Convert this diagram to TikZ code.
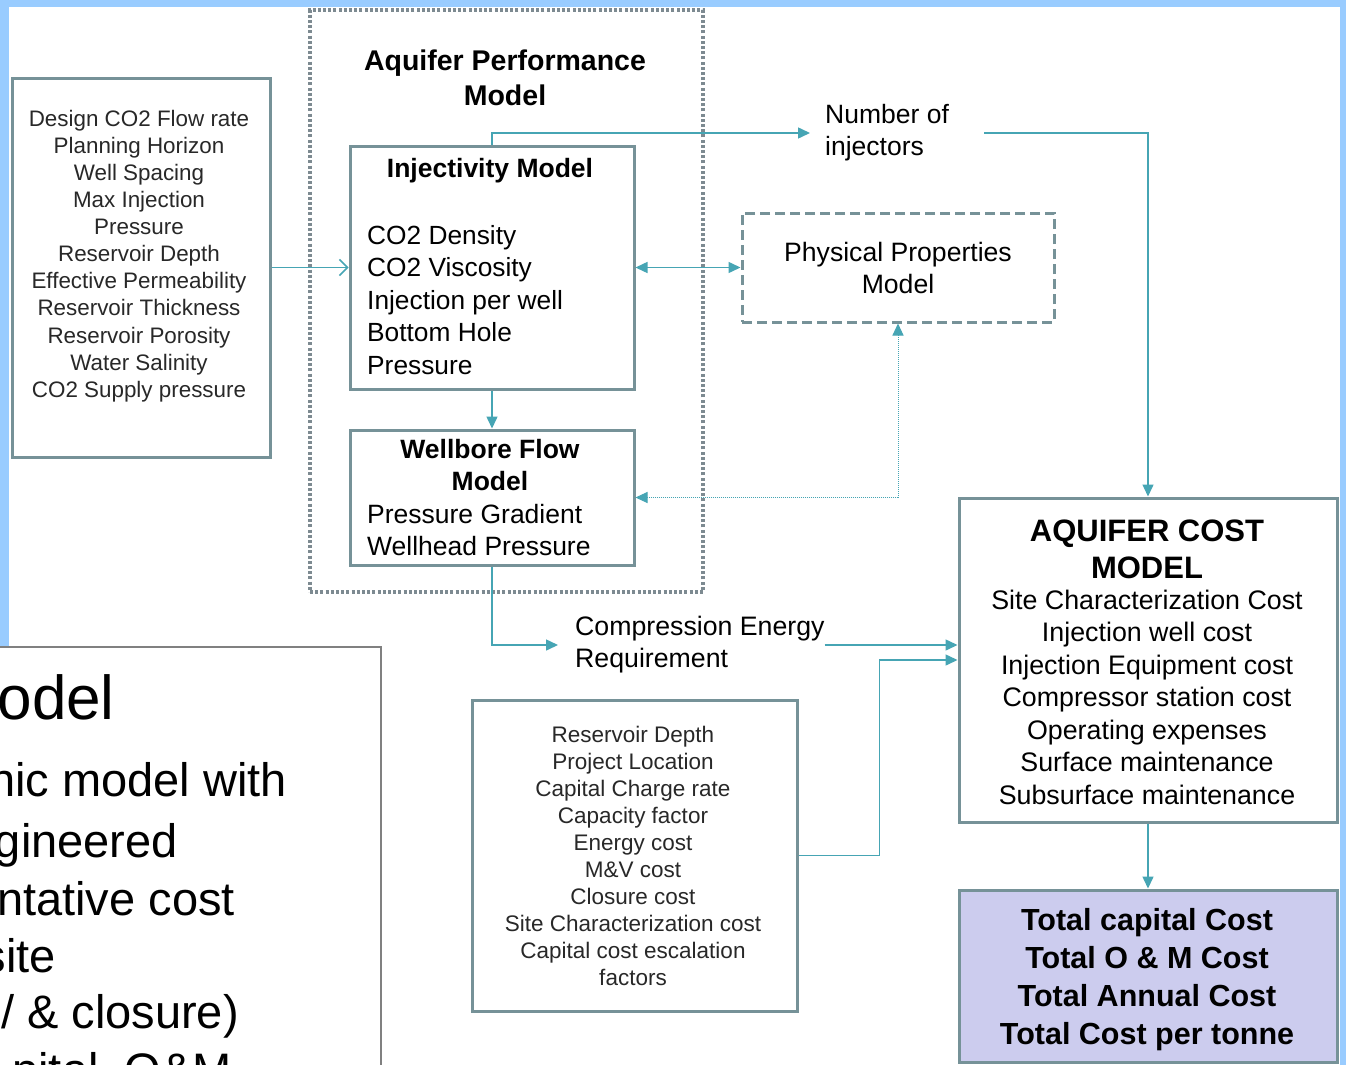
\documentclass[tikz,border=0pt]{standalone}
\usepackage{fontspec}
\setmainfont{Liberation Sans}
\usetikzlibrary{arrows.meta,calc}
\definecolor{bgblue}{RGB}{153,204,255}
\definecolor{boxline}{RGB}{118,146,152}
\definecolor{tealc}{RGB}{70,165,180}
\definecolor{dotgray}{RGB}{125,138,145}
\definecolor{lav}{RGB}{204,204,238}
\definecolor{txtgray}{RGB}{40,40,40}
\definecolor{ovgray}{RGB}{128,128,128}
\begin{document}
\begin{tikzpicture}[x=1pt,y=-1pt,
  box/.style={draw=boxline,line width=3pt,fill=white,inner sep=0pt},
  txt/.style={inner sep=0pt,text=black},
  light/.style={inner sep=0pt,text=txtgray},
  conn/.style={draw=tealc,line width=1.5pt},
  arr/.style={conn,-{Triangle[length=12pt,width=11pt]}},
  dbl/.style={conn,{Triangle[length=12pt,width=11pt]}-{Triangle[length=12pt,width=11pt]}},
  dotconn/.style={draw=tealc,line width=1pt,dash pattern=on 1pt off 1pt,{Triangle[length=12pt,width=11pt]}-{Triangle[length=12pt,width=11pt]}}
]
\useasboundingbox (0,0) rectangle (1346,1065);
\clip (0,0) rectangle (1346,1065);
\fill[bgblue] (0,0) rectangle (1346,1065);
\fill[white] (9,7) rectangle (1340,1070);

% Aquifer performance model (dotted container)
\node[draw=dotgray,line width=3.5pt,dash pattern=on 3pt off 2.2pt,minimum width=393pt,minimum height=582pt,inner sep=0pt] (perf) at (506.5,301) {};
\node[txt,font=\fontsize{28.5}{35}\selectfont\bfseries,align=center] (perft) at (505,78) {Aquifer Performance\\Model};

% input box
\node[box,minimum width=258pt,minimum height=379pt] (inp) at (141,267.5) {};
\node[light,font=\fontsize{22.4}{27.1}\selectfont,align=center] (inpt) at (139,256) {Design CO2 Flow rate\\Planning Horizon\\Well Spacing\\Max Injection\\Pressure\\Reservoir Depth\\Effective Permeability\\Reservoir Thickness\\Reservoir Porosity\\Water Salinity\\CO2 Supply pressure};

% injectivity model
\node[box,minimum width=284pt,minimum height=243pt] (inj) at (492,267.5) {};
\node[txt,font=\fontsize{26.5}{32}\selectfont\bfseries] (injt) at (490,171) {Injectivity Model};
\node[txt,font=\fontsize{26.3}{32.5}\selectfont,align=left,anchor=west] (injb) at (367,300) {CO2 Density\\CO2 Viscosity\\Injection per well\\Bottom Hole\\Pressure};

% wellbore flow model
\node[box,minimum width=284pt,minimum height=135pt] (wb) at (492,497.5) {};
\node[txt,font=\fontsize{26.5}{32}\selectfont\bfseries,align=center] (wbt) at (490,465) {Wellbore Flow\\Model};
\node[txt,font=\fontsize{26.5}{32.5}\selectfont,align=left,anchor=west] (wbb) at (367,530) {Pressure Gradient\\Wellhead Pressure};

% physical properties
\node[draw=boxline,line width=3pt,dash pattern=on 10pt off 5pt,fill=white,minimum width=312pt,minimum height=109pt,inner sep=0pt] (phys) at (898,267.5) {};
\node[txt,font=\fontsize{26.6}{32}\selectfont,align=center] (physt) at (898,268) {Physical Properties\\Model};

% number of injectors
\node[txt,font=\fontsize{26.5}{32}\selectfont,align=left,anchor=west] (ninj) at (825,133) {Number of\\injectors};

% aquifer cost model
\node[box,minimum width=378pt,minimum height=324pt] (cost) at (1148,660) {};
\node[txt,font=\fontsize{31}{37}\selectfont\bfseries,align=center] (costt) at (1147,549) {AQUIFER COST\\MODEL};
\node[txt,font=\fontsize{26.8}{32.5}\selectfont,align=center] (costb) at (1147,697) {Site Characterization Cost\\Injection well cost\\Injection Equipment cost\\Compressor station cost\\Operating expenses\\Surface maintenance\\Subsurface maintenance};

% totals
\node[box,fill=lav,minimum width=378pt,minimum height=172pt] (tot) at (1148,976) {};
\node[txt,font=\fontsize{30.5}{38}\selectfont\bfseries,align=center] (tott) at (1147,980) {Total capital Cost\\Total O \& M Cost\\Total Annual Cost\\Total Cost per tonne};

% economic inputs
\node[box,minimum width=325pt,minimum height=311pt] (bot) at (634.5,855.5) {};
\node[light,font=\fontsize{22.5}{27}\selectfont,align=center] (bott) at (633,856) {Reservoir Depth\\Project Location\\Capital Charge rate\\Capacity factor\\Energy cost\\M\&V cost\\Closure cost\\Site Characterization cost\\Capital cost escalation\\factors};

% compression energy
\node[txt,font=\fontsize{26.7}{32}\selectfont,align=left,anchor=west] (comp) at (575,645) {Compression Energy\\Requirement};

% connectors
\draw[conn,-{Straight Barb[length=8pt,width=16pt]}] (inp.east) -- (inj.west);
\draw[arr] (inj.north) |- ([xshift=-15pt]ninj.west);
\draw[arr] ([xshift=35pt]ninj.east) -| (cost.north);
\draw[dbl] (inj.east) -- (phys.west);
\draw[arr] (inj.south) -- (wb.north);
\draw[dotconn] (phys.south) |- (wb.east);
\draw[arr] (wb.south) |- ([xshift=-17pt]comp.west);
\draw[arr] (comp.east) -- (comp.east -| cost.west);
\draw[arr] (bot.east) -- ++(81,0) |- (cost.west);
\draw[arr] (cost.south) -- (tot.north);

% overlay slide box
\node[draw=ovgray,line width=1.5pt,fill=white,minimum width=390pt,minimum height=430pt,inner sep=0pt] (ov) at (186,862) {};
\node[txt,font=\fontsize{62}{62}\selectfont,anchor=base east] (ov1) at (115,719) {odel};
\node[txt,font=\fontsize{47}{47}\selectfont,anchor=base east] (ov2) at (287,796) {nic model with};
\node[txt,font=\fontsize{47}{47}\selectfont,anchor=base east] (ov3) at (178,857) {gineered};
\node[txt,font=\fontsize{47}{47}\selectfont,anchor=base east] (ov4) at (235,915) {ntative cost};
\node[txt,font=\fontsize{47}{47}\selectfont,anchor=base east] (ov5) at (56,972) {site};
\node[txt,font=\fontsize{47}{47}\selectfont,anchor=base east] (ov6) at (239,1028) {/ \& closure)};
\node[txt,font=\fontsize{47}{47}\selectfont,anchor=base east] (ov7) at (232,1086) {pital, O\&M};
\end{tikzpicture}
\end{document}
